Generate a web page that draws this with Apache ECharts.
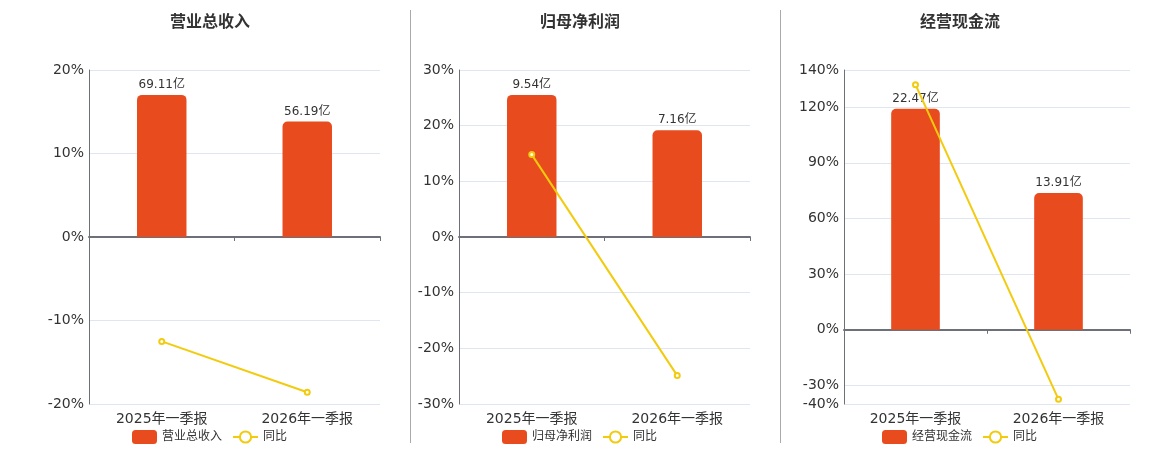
<!DOCTYPE html>
<html>
<head>
<meta charset="utf-8">
<script src="https://cdn.jsdelivr.net/npm/echarts@6/dist/echarts.min.js"></script>
<style>
html,body{margin:0;padding:0;background:#fff;}
#main{width:1160px;height:450px;}
</style>
</head>
<body>
<div id="main"></div>
<script>
var categories = ['2025年一季报', '2026年一季报'];
var panelTitles = ['营业总收入', '归母净利润', '经营现金流'];
var revenue = [69.11, 56.19];
var revenueYoy = [-12.5, -18.6];
var netProfit = [9.54, 7.16];
var netProfitYoy = [14.8, -24.9];
var cashFlow = [22.47, 13.91];
var cashFlowYoy = [132.1, -37.5];
var yoyName = '同比';
var unit = '亿';
var leftMins = [-20, -30, -40];
var leftMaxs = [20, 30, 140];
var leftIntervals = [10, 10, null];

var bars = [revenue, netProfit, cashFlow];
var yoys = [revenueYoy, netProfitYoy, cashFlowYoy];

var FONT = '"DejaVu Sans", "Noto Sans CJK SC", sans-serif';
var gridLefts = [89, 459, 844];
var gridWidths = [291, 291, 286];
var titleCenters = [210, 580, 960];
var legendLefts = [132, 502, 882];

var option = {
  animation: false,
  textStyle: {fontFamily: FONT},
  title: [], legend: [], grid: [], xAxis: [], yAxis: [], series: [],
  graphic: [
    {type: 'line', shape: {x1: 410.5, y1: 10, x2: 410.5, y2: 443}, style: {stroke: '#aaaaaa', lineWidth: 1}},
    {type: 'line', shape: {x1: 780.5, y1: 10, x2: 780.5, y2: 443}, style: {stroke: '#aaaaaa', lineWidth: 1}}
  ]
};

for (var i = 0; i < 3; i++) {
  var barMax = Math.max.apply(null, bars[i]);
  var rMax = barMax / 0.851;
  var rMin = rMax * leftMins[i] / leftMaxs[i];
  option.title.push({
    text: panelTitles[i], left: titleCenters[i], top: 13, textAlign: 'center', padding: 0,
    textStyle: {fontSize: 16, fontWeight: 'bold', color: '#333', fontFamily: '"Noto Sans CJK SC", sans-serif'}
  });
  option.legend.push({
    left: legendLefts[i], top: 430, itemWidth: 25, itemHeight: 14, itemGap: 10, padding: 0,
    textStyle: {fontSize: 12, color: '#333', fontFamily: FONT},
    data: [{name: panelTitles[i], icon: 'roundRect'}, {name: yoyName}]
  });
  option.grid.push({left: gridLefts[i], width: gridWidths[i], top: 70, bottom: 46});
  option.xAxis.push({
    type: 'category', gridIndex: i, data: categories,
    axisLine: {show: false, onZero: false}, axisTick: {show: false},
    axisLabel: {fontSize: 14, color: '#333', margin: 8, fontFamily: FONT}
  });
  option.xAxis.push({
    type: 'category', gridIndex: i, data: categories, position: 'bottom',
    axisLine: {show: true, onZero: true, onZeroAxisIndex: 2 * i, lineStyle: {color: '#6E7079', width: 2}},
    axisTick: {show: true, length: 4, lineStyle: {color: '#6E7079'}},
    axisLabel: {show: false}
  });
  var ya = {
    type: 'value', gridIndex: i, min: leftMins[i], max: leftMaxs[i],
    axisLine: {show: true, lineStyle: {color: '#6E7079'}},
    axisTick: {show: false},
    splitLine: {lineStyle: {color: '#E0E6F1'}},
    axisLabel: {fontSize: 14, color: '#333', formatter: '{value}%', margin: 5, fontFamily: FONT}
  };
  if (leftIntervals[i]) ya.interval = leftIntervals[i];
  option.yAxis.push(ya);
  option.yAxis.push({
    type: 'value', gridIndex: i, min: rMin, max: rMax, show: false,
    splitLine: {show: false}
  });
  option.series.push({
    name: panelTitles[i], type: 'bar', xAxisIndex: 2 * i, yAxisIndex: 2 * i + 1,
    data: bars[i], barWidth: '34%',
    itemStyle: {color: '#E84B1D', borderRadius: [5, 5, 0, 0]},
    label: {show: true, position: 'top', distance: 4, fontSize: 12, color: '#333', fontFamily: FONT,
      formatter: function (p) { return p.value.toFixed(2) + unit; }}
  });
  option.series.push({
    name: yoyName, type: 'line', xAxisIndex: 2 * i, yAxisIndex: 2 * i,
    data: yoys[i], symbol: 'emptyCircle', symbolSize: 5,
    lineStyle: {color: '#F2CB0E', width: 2},
    itemStyle: {color: '#F2CB0E'}
  });
}

var chart = echarts.init(document.getElementById('main'));
chart.setOption(option);
</script>
</body>
</html>
